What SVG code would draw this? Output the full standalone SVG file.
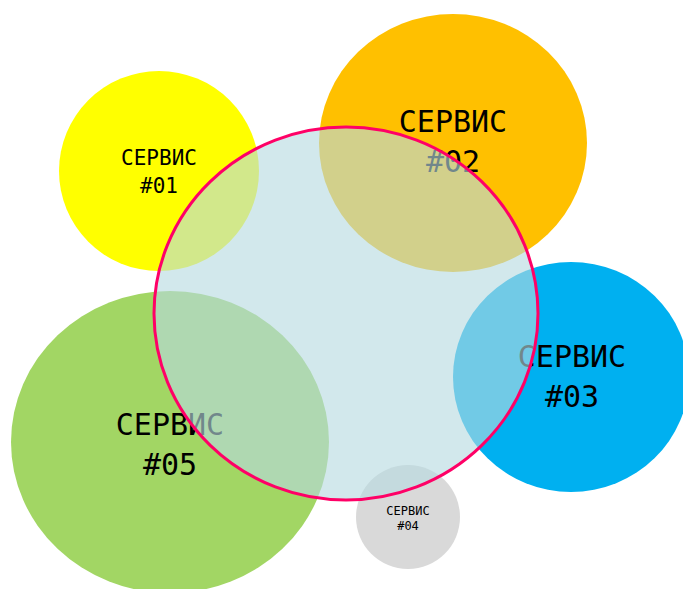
<svg xmlns="http://www.w3.org/2000/svg" width="683" height="589" viewBox="0 0 683 589">
<style>
text{font-family:"DejaVu Sans Mono","Liberation Mono",monospace;text-anchor:middle;fill:#000}
.big{font-size:30px}
.mid{font-size:21px}
.sm{font-size:12px}
</style>
<rect width="683" height="589" fill="#fff"/>
<g id="s01">
<circle cx="159" cy="171" r="100" fill="#ffff00"/>
<text class="mid" x="159" y="165">СЕРВИС</text>
<text class="mid" x="159" y="193">#01</text>
</g>
<g id="s02">
<ellipse cx="453" cy="143" rx="134" ry="129" fill="#ffc000"/>
<text class="big" x="453" y="132">СЕРВИС</text>
<text class="big" x="453" y="172">#02</text>
</g>
<g id="s03">
<ellipse cx="571" cy="377" rx="118" ry="115" fill="#00b0f0"/>
<text class="big" x="572" y="367">СЕРВИС</text>
<text class="big" x="572" y="407">#03</text>
</g>
<g id="s05">
<ellipse cx="170" cy="442" rx="159" ry="151" fill="#a2d664"/>
<text class="big" x="170" y="435">СЕРВИС</text>
<text class="big" x="170" y="475">#05</text>
</g>
<g id="s04">
<circle cx="408" cy="517" r="52" fill="#d9d9d9"/>
<text class="sm" x="408" y="515">СЕРВИС</text>
<text class="sm" x="408" y="530">#04</text>
</g>
<g id="core">
<ellipse cx="346" cy="313.5" rx="192" ry="186.5" fill="#b6dae0" fill-opacity="0.62" stroke="#ff0066" stroke-width="3"/>
</g>
</svg>
